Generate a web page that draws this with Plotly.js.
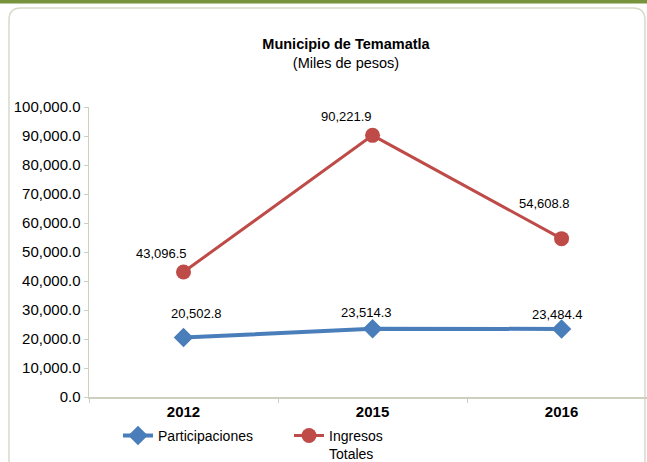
<!DOCTYPE html>
<html>
<head>
<meta charset="utf-8">
<script src="https://cdn.plot.ly/plotly-3.0.1.min.js"></script>
<style>html,body{margin:0;padding:0;background:#fff;}#chart{width:647px;height:462px;}</style>
</head>
<body>
<div id="chart"></div>
<script>
// Data
var years = ['2012', '2015', '2016'];
var participaciones = [20502.8, 23514.3, 23484.4];
var ingresosTotales = [43096.5, 90221.9, 54608.8];
var seriesNames = ['Participaciones', 'Ingresos<br>Totales'];
var yTicks = [0, 10000, 20000, 30000, 40000, 50000, 60000, 70000, 80000, 90000, 100000];

// Label offsets (pixels) — style only
var partOffsets = [[13, 24], [-6, 16], [-4, 14]];
var ingOffsets = [[-22, 19], [-26, 19], [-17, 35]];

function fmt(v) {
  var s = v.toFixed(1);
  var parts = s.split('.');
  parts[0] = parts[0].replace(/\B(?=(\d{3})+(?!\d))/g, ',');
  return parts.join('.');
}

var FONT = 'Liberation Sans, Arial, sans-serif';

var traces = [
  {
    x: years, y: participaciones, name: seriesNames[0], type: 'scatter', mode: 'lines+markers',
    line: {color: '#4a7ebb', width: 4},
    marker: {symbol: 'diamond', size: 15, color: '#4a7ebb'}
  },
  {
    x: years, y: ingresosTotales, name: seriesNames[1], type: 'scatter', mode: 'lines+markers',
    line: {color: '#be4b48', width: 3},
    marker: {symbol: 'circle', size: 15, color: '#be4b48'}
  }
];

var annotations = [];
participaciones.forEach(function (v, i) {
  annotations.push({xref: 'x', yref: 'y', x: i, y: v, text: fmt(v), showarrow: false,
    xanchor: 'center', yanchor: 'middle',
    xshift: partOffsets[i][0], yshift: partOffsets[i][1],
    font: {family: FONT, size: 13, color: '#000000'}});
});
ingresosTotales.forEach(function (v, i) {
  annotations.push({xref: 'x', yref: 'y', x: i, y: v, text: fmt(v), showarrow: false,
    xanchor: 'center', yanchor: 'middle',
    xshift: ingOffsets[i][0], yshift: ingOffsets[i][1],
    font: {family: FONT, size: 13, color: '#000000'}});
});

var x0 = -0.1434, x1 = 0.9964, yt = 1.3414, yb = -0.3, rx = 0.0215, ry = 0.0414;
var borderPath = 'M ' + (x0 + rx) + ',' + yt + ' L ' + (x1 - rx) + ',' + yt +
  ' Q ' + x1 + ',' + yt + ' ' + x1 + ',' + (yt - ry) + ' L ' + x1 + ',' + yb +
  ' L ' + x0 + ',' + yb + ' L ' + x0 + ',' + (yt - ry) +
  ' Q ' + x0 + ',' + yt + ' ' + (x0 + rx) + ',' + yt + ' Z';

var layout = {
  width: 647, height: 462,
  margin: {l: 89, r: 0, t: 107, b: 65, autoexpand: false},
  paper_bgcolor: '#ffffff', plot_bgcolor: 'rgba(0,0,0,0)',
  font: {family: FONT, color: '#000'},
  showlegend: true,
  title: {
    text: '<b>Municipio de Temamatla</b><br>(Miles de pesos)',
    font: {family: FONT, size: 14.5, color: '#000'},
    xref: 'paper', x: (346 - 89) / 558, xanchor: 'center',
    yref: 'container', y: 1 - 49 / 462, yanchor: 'top'
  },
  xaxis: {
    type: 'category', range: [-0.5, 2.452],
    showgrid: false, zeroline: false,
    showline: true, linecolor: '#cfcfbf', linewidth: 2,
    ticks: 'outside', tickson: 'boundaries', ticklen: 4, tickcolor: '#cfcfbf',
    tickfont: {family: FONT, size: 15, color: '#000', weight: 'bold'},
    fixedrange: true
  },
  yaxis: {
    range: [0, 100000], tickvals: yTicks, tickformat: ',.1f',
    showgrid: false, zeroline: false,
    showline: true, linecolor: '#cfcfbf', linewidth: 1.5,
    ticks: 'outside', ticklen: 4, tickcolor: '#cfcfbf',
    tickfont: {family: FONT, size: 15, color: '#000'},
    fixedrange: true
  },
  legend: {
    orientation: 'h', x: 0.052, xanchor: 'left', y: -0.079, yanchor: 'top',
    font: {family: FONT, size: 14, color: '#000'},
    entrywidth: 126, entrywidthmode: 'pixels', valign: 'top',
    tracegroupgap: 0,
    bgcolor: 'rgba(0,0,0,0)'
  },
  annotations: annotations,
  shapes: [
    {type: 'path', xref: 'paper', yref: 'paper', path: borderPath, layer: 'below',
     line: {color: '#d6dac8', width: 1.5}, fillcolor: 'rgba(0,0,0,0)'},
    {type: 'rect', xref: 'paper', yref: 'paper', x0: -0.1595, x1: 1.0, y0: 1.357, y1: 1.369,
     line: {width: 0}, fillcolor: '#77933c', layer: 'below'}
  ]
};

Plotly.newPlot('chart', traces, layout, {displayModeBar: false, staticPlot: true});
</script>
</body>
</html>
